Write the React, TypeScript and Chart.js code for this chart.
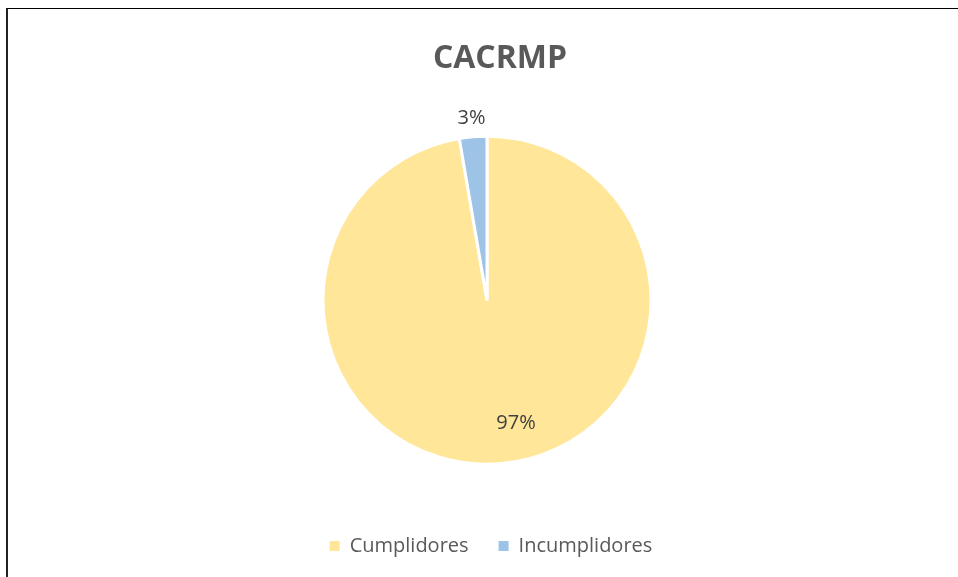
import React, { useEffect, useRef } from "react";
import { Chart, registerables } from "chart.js";

Chart.register(...registerables);

// ---- data ----
const chartTitle = "CACRMP";
const categories = ["Cumplidores", "Incumplidores"];
const shares = [97.3, 2.7];
const sliceColors = ["#FFE699", "#9DC3E6"];
const labelModes = ["inside", "outside"];

// ---- style constants ----
const FONT = "'Open Sans', 'Noto Sans', sans-serif";
const CANVAS_W = 966;
const CANVAS_H = 568;
const PIE_SHIFT_X = -4;
const TITLE_SHIFT_X = 9;
const INSIDE_ANGLE_SHIFT = (8.4 * Math.PI) / 180;

const pieLabelPlugin = {
  id: "pieLabels",
  afterDatasetsDraw(chart: any) {
    const meta = chart.getDatasetMeta(0);
    const data: number[] = chart.data.datasets[0].data;
    const total = data.reduce((a, b) => a + b, 0);
    const ctx = chart.ctx;
    ctx.save();
    ctx.font = `20px ${FONT}`;
    ctx.fillStyle = "#404040";
    ctx.textAlign = "center";
    ctx.textBaseline = "middle";
    meta.data.forEach((arc: any, i: number) => {
      const p = arc.getProps(["x", "y", "startAngle", "endAngle", "outerRadius"], true);
      const mid = (p.startAngle + p.endAngle) / 2;
      let angle = mid;
      let dist: number;
      if (labelModes[i] === "inside") {
        angle = mid - INSIDE_ANGLE_SHIFT;
        dist = p.outerRadius * 0.77;
      } else {
        dist = p.outerRadius + 19;
      }
      const x = p.x + Math.cos(angle) * dist;
      const y = p.y + Math.sin(angle) * dist;
      ctx.fillText(`${Math.round((data[i] / total) * 100)}%`, x, y);
    });
    ctx.restore();
  },
};

const nudgePlugin = {
  id: "nudge",
  afterLayout(chart: any) {
    const ca = chart.chartArea;
    ca.left += PIE_SHIFT_X;
    ca.right += PIE_SHIFT_X;
    if (chart.titleBlock) {
      chart.titleBlock.left += TITLE_SHIFT_X;
      chart.titleBlock.right += TITLE_SHIFT_X;
    }
  },
};

function PieChart() {
  const ref = useRef<HTMLCanvasElement | null>(null);
  useEffect(() => {
    if (!ref.current) return;
    const baseLabels = (Chart as any).overrides.pie.plugins.legend.labels.generateLabels;
    const chart = new Chart(ref.current, {
      type: "pie",
      data: {
        labels: categories,
        datasets: [
          {
            data: shares,
            backgroundColor: sliceColors,
            borderColor: "#ffffff",
            borderWidth: 3,
            radius: 164,
          },
        ],
      },
      options: {
        responsive: false,
        animation: false,
        devicePixelRatio: 1,
        layout: { padding: { top: 0, bottom: 11, left: 0, right: 0 } },
        plugins: {
          title: {
            display: true,
            text: chartTitle,
            color: "#595959",
            font: { family: FONT, size: 32, weight: "bold" },
            padding: { top: 31, bottom: 16 },
          },
          legend: {
            position: "bottom",
            labels: {
              boxWidth: 10,
              boxHeight: 10,
              padding: 30,
              color: "#595959",
              font: { family: FONT, size: 20 },
              generateLabels: (c: any) =>
                baseLabels(c).map((l: any) => ({ ...l, lineWidth: 0, strokeStyle: "transparent" })),
            },
          },
          tooltip: { enabled: false },
        },
      },
      plugins: [nudgePlugin, pieLabelPlugin],
    } as any);
    return () => chart.destroy();
  }, []);
  return (
    <canvas
      ref={ref}
      width={CANVAS_W}
      height={CANVAS_H}
      style={{ position: "absolute", left: 0, top: 0, width: CANVAS_W, height: CANVAS_H }}
    />
  );
}

export default function App() {
  return (
    <div
      style={{
        position: "fixed",
        left: 0,
        top: 0,
        width: 958,
        height: 577,
        overflow: "hidden",
        background: "#ffffff",
      }}
    >
      <div
        style={{
          position: "absolute",
          left: 6,
          top: 8,
          width: 1000,
          height: 700,
          borderTop: "1px solid #000",
          borderLeft: "2px solid #222",
          boxSizing: "content-box",
        }}
      >
        <PieChart />
      </div>
    </div>
  );
}
